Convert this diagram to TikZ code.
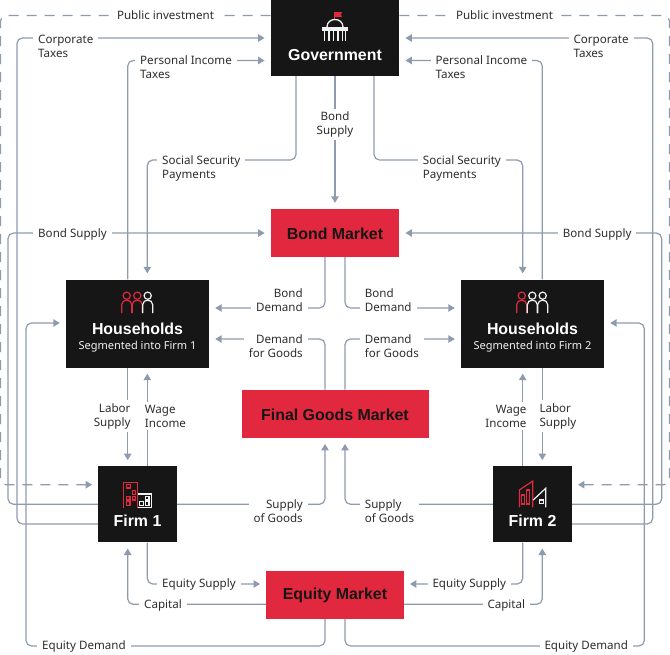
\documentclass[tikz,border=0pt]{standalone}
\usepackage{fontspec}
\setmainfont{Noto Sans}
\newfontfamily\titlefont{Liberation Sans}
\usetikzlibrary{arrows.meta,positioning}
\definecolor{linkgray}{HTML}{8E9BAD}
\definecolor{boxblack}{HTML}{161616}
\definecolor{boxred}{HTML}{E1283E}
\definecolor{textgray}{HTML}{2E2E2E}
\definecolor{iconwhite}{HTML}{F2F2F2}
\pgfdeclarelayer{edgelayer}
\pgfsetlayers{edgelayer,main}
\tikzset{
  darkbox/.style={fill=boxblack,inner sep=0pt},
  redbox/.style={fill=boxred,inner sep=0pt},
  title/.style={font=\fontsize{15.9}{18}\titlefont\bfseries},
  subtitle/.style={text=iconwhite,font=\fontsize{11}{14}\selectfont},
  lbl/.style={fill=white,text=textgray,inner xsep=5pt,inner ysep=3pt,yshift=-0.7pt,font=\fontsize{11.6}{14}\selectfont},
  lblw/.style={lbl,anchor=west,align=left},
  lble/.style={lbl,anchor=east,align=right},
  link/.style={draw=linkgray,line width=1.2pt,rounded corners=5.5pt},
  arrow/.style={link,-{Triangle[length=6.5pt,width=7.5pt]},shorten >=6pt},
  dashlink/.style={arrow,dash pattern=on 10pt off 8pt},
  person/.pic={
    \draw[line width=1.2pt,draw=#1] (0,0) circle[radius=3.6pt];
    \draw[line width=1.2pt,draw=#1] (-5,17.5) -- (-5,9) .. controls (-5,3) and (5,3) .. (5,9) -- (5,17.5);
  },
  capitol/.pic={
    \draw[line width=1.2pt,boxred] (-0.7,-7) -- (-0.7,-15);
    \fill[boxred] (-0.7,-15) -- (7,-15) -- (6,-12.5) -- (7,-10) -- (-0.7,-10) -- cycle;
    \draw[line width=1.3pt,iconwhite] (-8,0) .. controls (-8,-10) and (8,-10) .. (8,0);
    \fill[iconwhite] (-12.7,0.3) rectangle (12.7,3.6);
    \foreach \x in {-10.5,-6,-1.5,3,7.5,10.5}
      \draw[line width=1.3pt,iconwhite] (\x,3.6) -- (\x,14);
  },
  firmtower/.pic={
    \draw[line width=1.3pt,boxred] (-14,12.5) -- (-14,-12.5) -- (0,-12.5) -- (0,12.5);
    \foreach \x/\y in {-9.2/-8.8,-3.8/-2.4,-9.5/3.2,-3.8/3.2,-9.5/8.4}
      \draw[line width=1.1pt,boxred] (\x-1.8,\y-1.8) rectangle (\x+1.8,\y+1.8);
    \draw[line width=1.3pt,iconwhite] (0,-1) -- (14,-1) -- (14,12.5) -- (0,12.5);
    \foreach \x/\y in {9.5/3.2,9.5/8.4,3.8/8.4}
      \draw[line width=1.1pt,iconwhite] (\x-1.8,\y-1.8) rectangle (\x+1.8,\y+1.8);
  },
  firmslant/.pic={
    \draw[line width=1.2pt,boxred] (-13.3,12.3) -- (-13.3,-5) -- (0,-14) -- (0,12.3);
    \draw[line width=1.1pt,boxred] (-11.2,0) rectangle (-8,9);
    \draw[line width=1.1pt,boxred] (-6,-5) rectangle (-2.8,9);
    \draw[line width=1.2pt,iconwhite] (0.5,5) -- (13,-6.7) -- (13,12.3);
    \draw[line width=1.1pt,iconwhite] (7,5) rectangle (10.6,8.6);
  }
}
\begin{document}
\begin{tikzpicture}[x=1pt,y=-1pt]
\useasboundingbox (0,0) rectangle (670,654);
% boxes
\node[darkbox,minimum width=128.5pt,minimum height=76pt] (gov) at (335,38) {};
\node[redbox,minimum width=128.5pt,minimum height=48pt] (bond) at (335,233) {};
\node[darkbox,minimum width=143pt,minimum height=88pt] (homeA) at (137.5,323.5) {};
\node[darkbox,minimum width=143pt,minimum height=88pt] (homeB) at (532.5,323.5) {};
\node[redbox,minimum width=187pt,minimum height=48pt] (goods) at (335,413.7) {};
\node[darkbox,minimum width=78.5pt,minimum height=76pt] (firmA) at (137.5,504.3) {};
\node[darkbox,minimum width=78.5pt,minimum height=76pt] (firmB) at (532.5,504.3) {};
\node[redbox,minimum width=137.5pt,minimum height=48pt] (equity) at (335,594.7) {};
% box texts
\node[title,text=white] (govT) at (335,55) {Government};
\node[title,text=boxblack] (bondT) at (335,234) {Bond Market};
\node[title,text=white] (homeAT) at (137.5,329) {Households};
\node[title,text=white] (homeBT) at (532.5,329) {Households};
\node[subtitle] (homeAS) at (137.5,347) {Segmented into Firm 1};
\node[subtitle] (homeBS) at (532.5,347) {Segmented into Firm 2};
\node[title,text=boxblack] (goodsT) at (335,414.5) {Final Goods Market};
\node[title,text=white] (firmAT) at (137.5,521) {Firm 1};
\node[title,text=white] (firmBT) at (532.5,521) {Firm 2};
\node[title,text=boxblack] (equityT) at (335,595.5) {Equity Market};
% icons
\pic at (335,27) {capitol};
\pic at (126.7,295.7) {person=boxred};
\pic at (137.3,295.7) {person=boxred};
\pic at (147.7,295.7) {person=iconwhite};
\pic at (521.7,295.7) {person=boxred};
\pic at (532.3,295.7) {person=iconwhite};
\pic at (542.7,295.7) {person=iconwhite};
\pic at (137.7,495) {firmtower};
\pic at (532.7,495) {firmslant};
% labels
\node[lbl] (pubA) at (165.5,14.5) {Public investment};
\node[lbl] (pubB) at (504.5,14.5) {Public investment};
\node[lblw] (corpA) at (33,46) {Corporate\\Taxes};
\node[lblw] (corpB) at (568.3,46) {Corporate\\Taxes};
\node[lblw] (persA) at (135,66.3) {Personal Income\\Taxes};
\node[lblw] (persB) at (430.3,66.3) {Personal Income\\Taxes};
\node[lblw] (socA) at (157,167.8) {Social Security\\Payments};
\node[lblw] (socB) at (417.7,167.8) {Social Security\\Payments};
\node[lbl,align=center] (bondG) at (335,123.8) {Bond\\Supply};
\node[lblw] (bsA) at (33,233.8) {Bond Supply};
\node[lblw] (bsB) at (557.7,233.8) {Bond Supply};
\node[lble] (bdA) at (308,299.4) {Bond\\Demand};
\node[lblw] (bdB) at (359.7,299.4) {Bond\\Demand};
\node[lble] (dgA) at (308,345.4) {Demand\\for Goods};
\node[lblw] (dgB) at (359.7,345.4) {Demand\\for Goods};
\node[lble] (lsA) at (135.7,415.4) {Labor\\Supply};
\node[lblw] (wiA) at (139.7,415.4) {Wage\\Income};
\node[lble] (wiB) at (531.7,415.4) {Wage\\Income};
\node[lblw] (lsB) at (534.3,415.4) {Labor\\Supply};
\node[lble] (sgA) at (308,510.3) {Supply\\of Goods};
\node[lblw] (sgB) at (359.7,510.3) {Supply\\of Goods};
\node[lblw] (esA) at (157,584) {Equity Supply};
\node[lblw] (esB) at (427.3,584) {Equity Supply};
\node[lblw] (capA) at (139,604.5) {Capital};
\node[lblw] (capB) at (482.3,604.5) {Capital};
\node[lblw] (edA) at (37,645.5) {Equity Demand};
\node[lblw] (edB) at (539.3,645.5) {Equity Demand};
% connectors
\begin{pgfonlayer}{edgelayer}
\draw[dashlink] ([yshift=22.5pt]gov.west) -| (0.5,484.7) -- ([yshift=19.6pt]firmA.west);
\draw[dashlink] ([yshift=22.5pt]gov.east) -| (669.5,484.7) -- ([yshift=19.6pt]firmB.east);
\draw[arrow] ([yshift=-19.7pt]firmA.west) -| (17,38) -- (gov.west);
\draw[arrow] ([yshift=-19.7pt]firmB.east) -| (652.7,38) -- (gov.east);
\draw[arrow] (homeA.north -| 127.7,0) |- ([yshift=-22.5pt]gov.west);
\draw[arrow] (homeB.north -| 542.3,0) |- ([yshift=-22.5pt]gov.east);
\draw[arrow] (gov.south -| 296,0) |- (147.3,160) -- (homeA.north -| 147.3,0);
\draw[arrow] (gov.south -| 374,0) |- (522.7,160) -- (homeB.north -| 522.7,0);
\draw[arrow] (gov) -- (bond);
\draw[arrow] (firmA.west) -| (8,233) -- (bond.west);
\draw[arrow] (firmB.east) -| (661.7,233) -- (bond.east);
\draw[arrow] (bond.south -| 325,0) |- ([yshift=15.5pt]homeA.east);
\draw[arrow] (bond.south -| 345,0) |- ([yshift=15.5pt]homeB.west);
\draw[arrow] (goods.north -| 325,0) |- ([yshift=-15.5pt]homeA.east);
\draw[arrow] (goods.north -| 345,0) |- ([yshift=-15.5pt]homeB.west);
\draw[arrow] (homeA.south -| 127.7,0) -- (firmA.north -| 127.7,0);
\draw[arrow] (firmA.north -| 147.3,0) -- (homeA.south -| 147.3,0);
\draw[arrow] (firmB.north -| 522.7,0) -- (homeB.south -| 522.7,0);
\draw[arrow] (homeB.south -| 542.3,0) -- (firmB.north -| 542.3,0);
\draw[arrow] (firmA.east) -| (goods.south -| 325,0);
\draw[arrow] (firmB.west) -| (goods.south -| 345,0);
\draw[arrow] (firmA.south -| 147.3,0) |- ([yshift=10.7pt]equity.west);
\draw[arrow] (firmB.south -| 522.7,0) |- ([yshift=10.7pt]equity.east);
\draw[arrow] ([yshift=-9.6pt]equity.west) -| (firmA.south -| 127.7,0);
\draw[arrow] ([yshift=-9.6pt]equity.east) -| (firmB.south -| 542.3,0);
\draw[arrow] (equity.south -| 325,0) |- (26,646) |- ([yshift=0.5pt]homeA.west);
\draw[arrow] (equity.south -| 345,0) |- (644.3,646) |- ([yshift=0.5pt]homeB.east);
\end{pgfonlayer}
\end{tikzpicture}
\end{document}
